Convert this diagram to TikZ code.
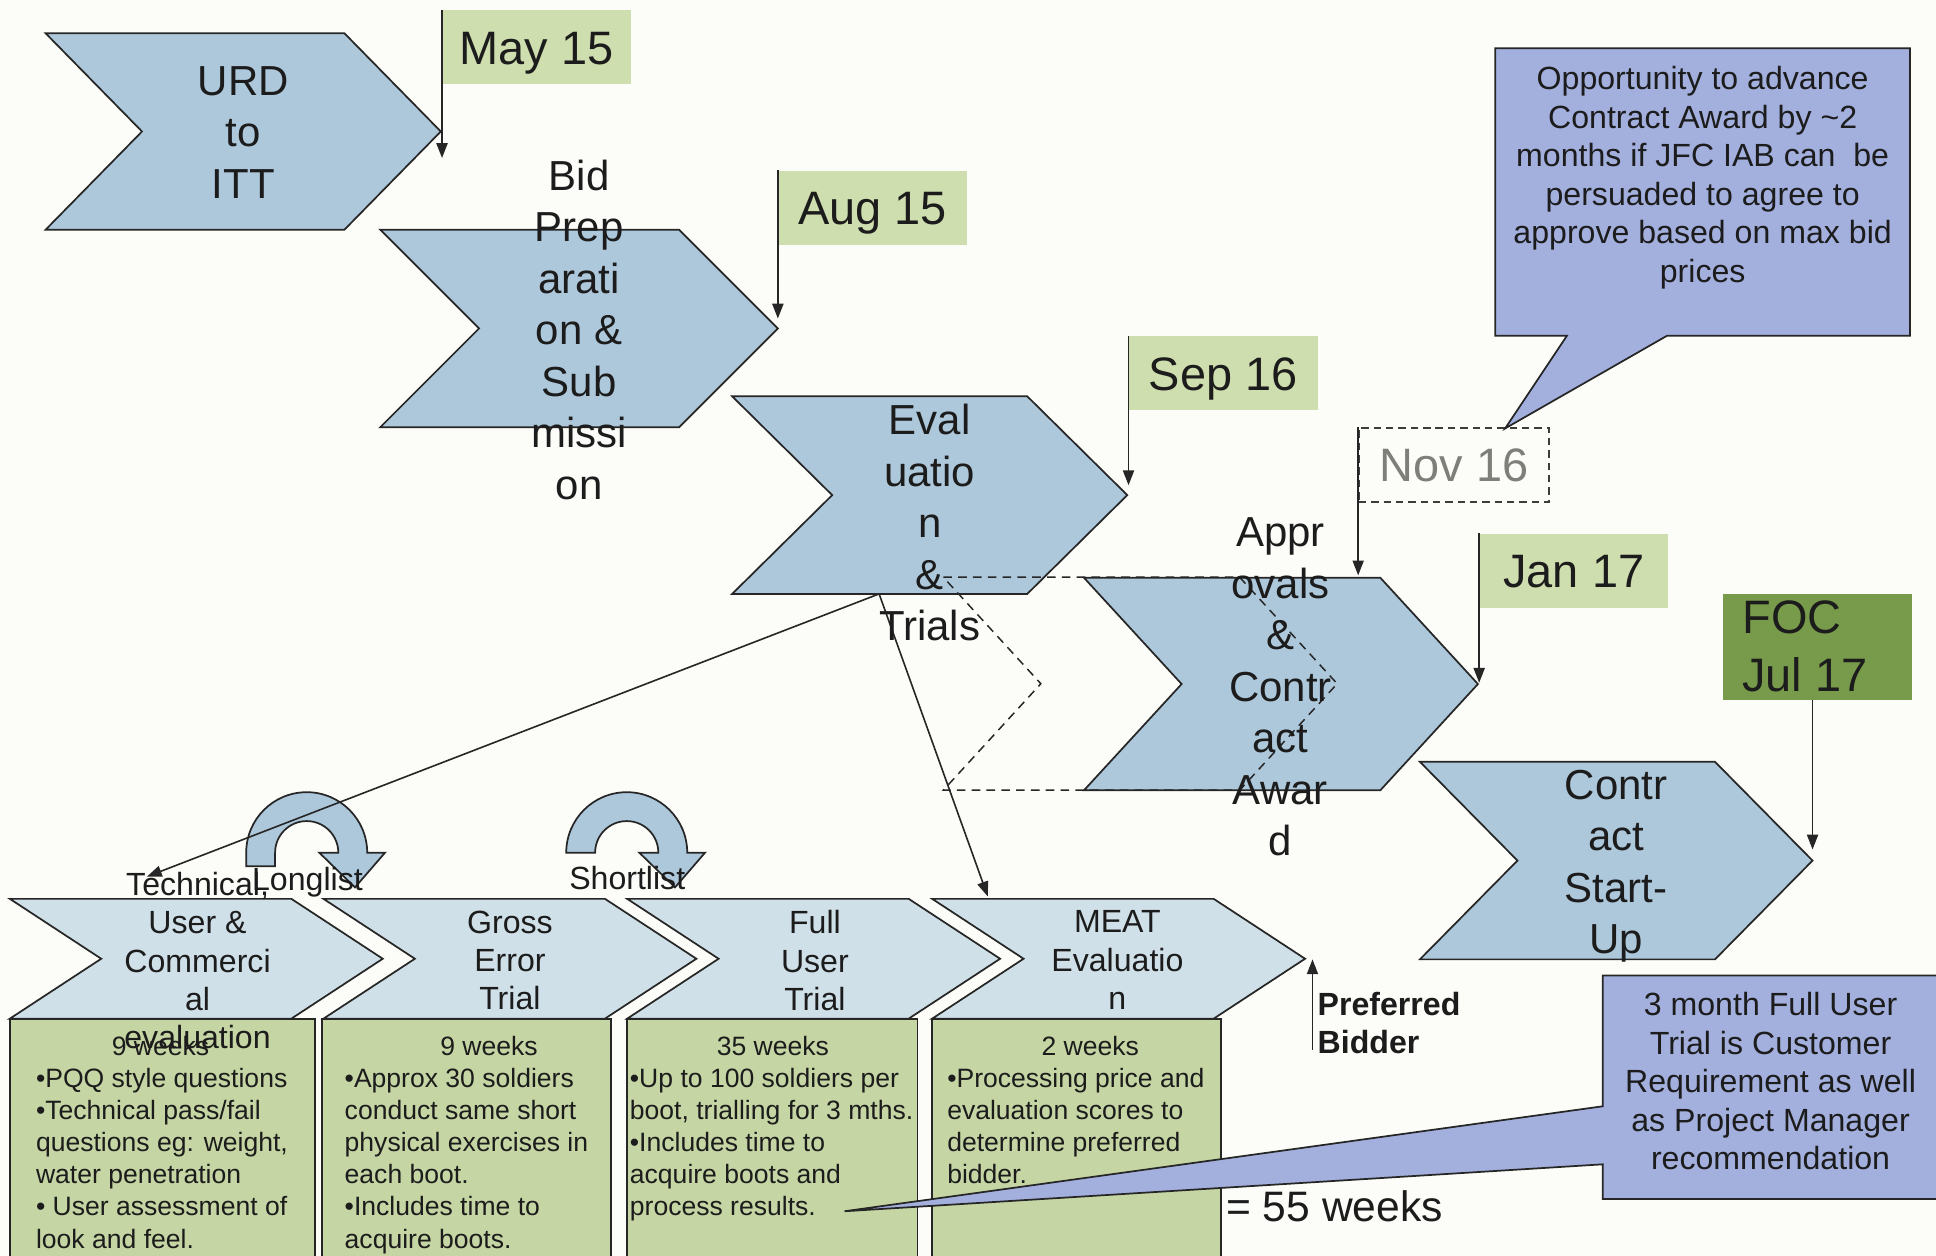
\documentclass[tikz,border=0pt]{standalone}
\usepackage{fontspec}
\setmainfont{Liberation Sans}
\usetikzlibrary{arrows.meta}
\definecolor{bgc}{HTML}{FCFCF8}
\definecolor{edgec}{HTML}{262626}
\definecolor{txt}{HTML}{1C1C1C}
\definecolor{chevblue}{HTML}{AEC8DB}
\definecolor{lightblue}{HTML}{D0E0E8}
\definecolor{boxgreen}{HTML}{C5D5A3}
\definecolor{dategreen}{HTML}{CFDEAF}
\definecolor{focgreen}{HTML}{789A4B}
\definecolor{callc}{HTML}{A3B0DE}
\definecolor{novgray}{HTML}{7F7F7A}
\newcommand{\mychev}[7]{%
  \path[#1] (#3,#4) coordinate (#2-nw) -- ++(#5,0) coordinate (#2-ne)
    -- ++(#7,#6/2) coordinate (#2-tip) -- ++(-#7,#6/2) coordinate (#2-se)
    -- ++(-#5,0) coordinate (#2-sw) -- ++(#7,-#6/2) coordinate (#2-notch) -- cycle;}
\newcommand{\myuturn}[4]{%
  \path[chev] (#2-49,#3+#4) coordinate (#1-leg) -- (#2-49,#3)
    arc[start angle=180,end angle=360,radius=49] -- (#2+63.4,#3)
    -- (#2+39.1,#3+28.1) coordinate (#1-tip) -- (#2+10.2,#3) -- (#2+25.6,#3)
    arc[start angle=360,end angle=180,radius=25.6] -- (#2-25.6,#3+#4) -- cycle;}
\begin{document}
\begin{tikzpicture}[x=1pt,y=-1pt,
  edge/.style={draw=edgec,line width=1.4pt,line join=miter},
  chev/.style={edge,fill=chevblue},
  lchev/.style={edge,fill=lightblue},
  gbox/.style={edge,fill=boxgreen},
  dchev/.style={draw=edgec,line width=1.2pt,dash pattern=on 7pt off 5pt},
  arr/.style={draw=edgec,line width=1.3pt,-{Triangle[length=12pt,width=9pt]}},
  callout/.style={draw=edgec,line width=1.4pt,fill=callc,line join=miter},
  datebox/.style={fill=dategreen,inner sep=0pt,minimum width=153pt,minimum height=60pt,
    anchor=north west,text height=27.4pt,text depth=0pt,
    font=\fontsize{38}{46}\selectfont,text=txt},
  big/.style={font=\fontsize{34}{41.7}\selectfont,align=center,anchor=north,inner sep=0pt,text=txt},
  mid/.style={font=\fontsize{26}{31}\selectfont,align=center,anchor=north,inner sep=0pt,text=txt},
  call/.style={font=\fontsize{26}{31.2}\selectfont,align=center,anchor=north,inner sep=0pt,text=txt},
  small/.style={font=\fontsize{21.5}{26}\selectfont,align=left,anchor=north west,inner sep=0pt,text=txt},
  smallc/.style={font=\fontsize{21.5}{26}\selectfont,anchor=north,inner sep=0pt,text=txt}
]
\clip (0,0) rectangle (1568,1017);
\fill[bgc] (0,0) rectangle (1568,1017);

% main chevrons
\mychev{chev}{urd}{37}{27}{242}{159}{78}
\mychev{chev}{bid}{308}{186}{242}{160}{80}
\mychev{chev}{eval}{593}{321}{239}{160}{81}
\mychev{chev}{appr}{878}{468}{240}{172}{79}
\mychev{chev}{csu}{1150}{617}{239}{160}{79}
% dashed (advanced) approvals chevron
\mychev{dchev}{adv}{764}{467.5}{240}{172.5}{79}

% date boxes and arrows
\node[datebox] (may) at (358,8) {May 15};
\node[datebox] (aug) at (630,138) {Aug 15};
\node[datebox] (sep) at (914,272) {Sep 16};
\node[datebox,fill=none,draw=edgec!90,line width=1.2pt,dash pattern=on 6pt off 4pt,text=novgray,minimum width=154pt] (nov) at (1100,346) {Nov 16};
\node[datebox] (jan) at (1198,432) {Jan 17};
\node[fill=focgreen,inner sep=0pt,minimum width=153pt,minimum height=86pt,anchor=north west] (focbox) at (1395,481) {};
\node[font=\fontsize{38}{47}\selectfont,align=left,anchor=north west,inner sep=0pt,text=txt] (foc) at (1411,486) {FOC\\Jul 17};

\coordinate (may-end) at (358,128);
\coordinate (aug-end) at (630,258);
\coordinate (sep-end) at (914,393);
\coordinate (nov-end) at (1100,466);
\coordinate (jan-end) at (1198,553);
\coordinate (foc-out) at (1468,567);
\coordinate (foc-end) at (1468,688);
\draw[arr] (may.north west) -- (may-end);
\draw[arr] (aug.north west) -- (aug-end);
\draw[arr] (sep.north west) -- (sep-end);
\draw[arr] (nov.north west) -- (nov-end);
\draw[arr] (jan.north west) -- (jan-end);
\draw[arr] (foc-out) -- (foc-end);

% bottom row chevrons and boxes
\mychev{lchev}{ca}{8}{728}{228}{97}{74}
\mychev{lchev}{cb}{262}{728}{228}{97}{74}
\mychev{lchev}{cc}{508}{728}{228}{97}{74}
\mychev{lchev}{cd}{755}{728}{228}{97}{74}
\path[gbox] (8,825) rectangle (255,1030);
\path[gbox] (261,825) rectangle (495,1030);
\path[gbox] (508,825) rectangle (743,1030);
\path[gbox] (755,825) rectangle (989,1030);

% U-turn arrows
\myuturn{ua}{248.4}{690.6}{11}
\myuturn{ub}{507.6}{690.6}{0}

% connectors from evaluation
\coordinate (eval-out) at (712,481);
\coordinate (tech-in) at (119,710);
\coordinate (meat-in) at (800,726);
\draw[arr] (eval-out) -- (tech-in);
\draw[arr] (eval-out) -- (meat-in);

% preferred bidder arrow
\coordinate (pb-start) at (1063,850);
\coordinate (pb-end) at (1063,777);
\draw[arr] (pb-start) -- (pb-end);

% callouts
\path[callout] (1211,39) coordinate (co1-nw) -- (1547,39) -- (1547,272) -- (1350,272)
  -- (1219,347) coordinate (co1-tip) -- (1269,272) -- (1211,272) -- cycle;
\path[callout] (1298,790) coordinate (co2-nw) -- (1580,790) -- (1580,971) -- (1298,971)
  -- (1298,943) -- (684,981) coordinate (co2-tip) -- (1298,896) -- cycle;

% texts
\node[big] (urdt) at (197,53.4) {URD\\to\\ITT};
\node[big] (bidt) at (469,129.4) {Bid\\Prep\\arati\\on \&\\Sub\\missi\\on};
\node[big] (evalt) at (753,327.4) {Eval\\uatio\\n\\\&\\Trials};
\node[big] (apprt) at (1037,419.4) {Appr\\ovals\\\&\\Contr\\act\\Awar\\d};
\node[big] (csut) at (1309,623.4) {Contr\\act\\Start-\\Up};

\node[mid] (cat) at (160,706.4) {Technical,\\User \&\\Commerci\\al\\evaluation};
\node[mid] (cbt) at (413,737.4) {Gross\\Error\\Trial};
\node[mid] (cct) at (660,737.4) {Full\\User\\Trial};
\node[mid] (cdt) at (905,737.4) {MEAT\\Evaluatio\\n};
\node[mid] (longl) at (249,702.4) {Longlist};
\node[mid] (shortl) at (508,701.4) {Shortlist};

\node[smallc] (wa) at (130,839) {9 weeks};
\node[smallc] (wb) at (396,839) {9 weeks};
\node[smallc] (wc) at (626,839) {35 weeks};
\node[smallc] (wd) at (883,839) {2 weeks};
\node[small] (ta) at (29,865) {•PQQ style questions\\•Technical pass/fail\\questions eg: weight,\\water penetration\\• User assessment of\\look and feel.};
\node[small] (tb) at (279,865) {•Approx 30 soldiers\\conduct same short\\physical exercises in\\each boot.\\•Includes time to\\acquire boots.};
\node[small] (tc) at (510,865) {•Up to 100 soldiers per\\boot, trialling for 3 mths.\\•Includes time to\\acquire boots and\\process results.};
\node[small] (td) at (767,865) {•Processing price and\\evaluation scores to\\determine preferred\\bidder.};

\node[font=\fontsize{26}{31}\selectfont\bfseries,align=left,anchor=north west,inner sep=0pt,text=txt] (pbt) at (1067,803.5) {Preferred\\Bidder};
\node[font=\fontsize{34.5}{40}\selectfont,anchor=north west,inner sep=0pt,text=txt] (total) at (993,964) {= 55 weeks};

\node[call] (co1t) at (1379,53.5) {Opportunity to advance\\Contract Award by \textasciitilde2\\months if JFC IAB can\ \ be\\persuaded to agree to\\approve based on max bid\\prices};
\node[call] (co2t) at (1434,803.5) {3 month Full User\\Trial is Customer\\Requirement as well\\as Project Manager\\recommendation};
\end{tikzpicture}
\end{document}
